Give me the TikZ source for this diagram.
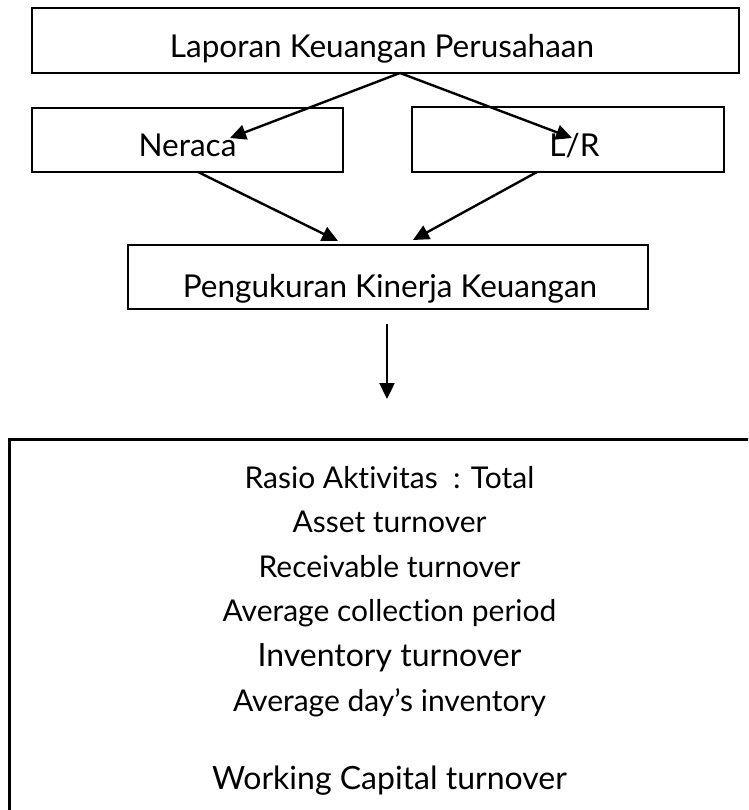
\documentclass[tikz,border=0pt]{standalone}
\usepackage{fontspec}
\setmainfont{Lato}[Ligatures={NoCommon}]
\usetikzlibrary{arrows.meta}
\begin{document}
\begin{tikzpicture}[x=1pt,y=-1pt,
  box/.style={draw, line width=2.6pt, inner sep=0pt},
  lbl/.style={anchor=base, inner sep=0pt, font=\fontsize{31.5}{37}\selectfont},
  itm/.style={anchor=base, inner sep=0pt, font=\fontsize{30}{36}\selectfont},
  itmbig/.style={anchor=base, inner sep=0pt, font=\fontsize{32}{38}\selectfont},
  conn/.style={line width=2.4pt, -{Triangle[length=16pt,width=15pt]}}]
\clip (0,0) rectangle (748,810);
% boxes
\node[box, minimum width=707pt, minimum height=65pt] (top) at (385.5,40.5) {};
\node[box, minimum width=311pt, minimum height=64pt] (ner) at (187.5,140) {};
\node[box, minimum width=312pt, minimum height=65pt] (lr) at (568,139.5) {};
\node[box, minimum width=520pt, minimum height=64pt] (peng) at (388,277) {};
\node[box, anchor=north west, minimum width=762pt, minimum height=420pt] (big) at (8,438) {};
% labels
\node[lbl] (tTop) at (382,58) {Laporan Keuangan Perusahaan};
\node[lbl] (tNer) at (187.5,157) {Neraca};
\node[lbl] (tLr) at (574.5,157) {L/R};
\node[lbl] (tPeng) at (390,297) {Pengukuran Kinerja Keuangan};
\node[itm] (r1) at (389.5,488) {Rasio Aktivitas\ \ : Total};
\node[itm] (r2) at (389.5,532.6) {Asset turnover};
\node[itm] (r3) at (389.5,577.2) {Receivable turnover};
\node[itm] (r4) at (389.5,621.8) {Average collection period};
\node[itmbig] (r5) at (389.5,666.4) {Inventory turnover};
\node[itm] (r6) at (389.5,711) {Average day’s inventory};
\node[itmbig] (r7) at (389.5,789) {Working Capital turnover};
% connector end points
\coordinate (topOut) at (400,73);
\coordinate (nerIn) at (230,138);
\coordinate (lrIn) at (572,138);
\coordinate (nerOut) at (198,172);
\coordinate (lrOut) at (537,172);
\coordinate (pengInL) at (338,241);
\coordinate (pengInR) at (413,240);
\coordinate (pengOut) at (387,324);
\coordinate (bigIn) at (387,399);
% connectors
\draw[conn] (topOut) -- (nerIn);
\draw[conn] (topOut) -- (lrIn);
\draw[conn] (nerOut) -- (pengInL);
\draw[conn] (lrOut) -- (pengInR);
\draw[conn] (pengOut) -- (bigIn);
\end{tikzpicture}
\end{document}
